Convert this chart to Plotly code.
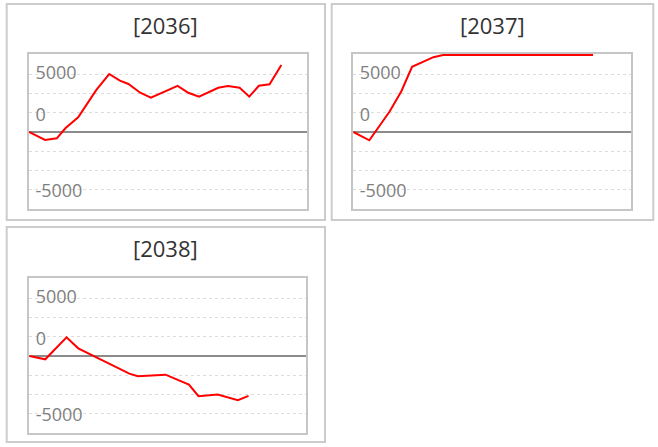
import plotly.graph_objects as go

W, H = 658, 447

titles = ["[2036]", "[2037]", "[2038]"]

x_2036 = [0, 1.5, 2.6, 3.4, 4.6, 5.4, 6.3, 7.5, 8.5, 9.3, 10.4, 11.4, 13.9, 14.9, 15.9, 17.7, 18.6, 19.7, 20.6, 21.5, 22.5, 23.6]
y_2036 = [0, -1040, -820, 480, 1910, 3510, 5460, 7530, 6660, 6240, 5100, 4460, 5980, 5100, 4590, 5750, 5980, 5750, 4590, 6010, 6200, 8700]

x_2037 = [0, 1.5, 3.4, 4.5, 5.5, 7.5, 8.4, 9.3, 10.4, 11.4, 13.9, 14.9, 15.9, 17.7, 18.6, 19.7, 20.6, 21.5, 22.45]
y_2037 = [0, -1080, 2660, 5300, 8470, 9720, 10000, 10000, 10000, 10000, 10000, 10000, 10000, 10000, 10000, 10000, 10000, 10000, 10000]

x_2038 = [0, 1.5, 3.5, 4.6, 9.4, 10.2, 12.8, 15.0, 15.9, 17.7, 19.6, 20.6]
y_2038 = [0, -430, 2430, 1000, -2300, -2640, -2430, -3730, -5240, -5030, -5750, -5200]

# label positions and texts (as placed in the original) and gridline positions
label_vals = [7550, 2100, -7800]
label_text = ["5000", "0", "-5000"]
grid_vals = [-7500, -5000, -2500, 2500, 5000, 7500]

y_range = [-10000, 10130]
x_range = [0, 26]

# pixel boxes of plot areas (left, right, top, bottom)
plot_boxes = [(29, 307, 55, 209), (353.3, 631, 55, 209), (29.3, 306, 279.3, 432.7)]
panel_boxes = [(6.7, 325, 4, 220), (331.7, 653.3, 4, 220), (6.7, 325, 227, 442)]

series = [(x_2036, y_2036), (x_2037, y_2037), (x_2038, y_2038)]

fig = go.Figure()
layout = dict(
    width=W, height=H, margin=dict(l=0, r=0, t=0, b=0),
    paper_bgcolor="white", plot_bgcolor="white", showlegend=False,
    font=dict(family="Open Sans, Noto Sans, sans-serif"),
)
annotations = []
shapes = []
for i, ((xs, ys), (l, r, t, b), (pl, pr, pt, pb), title) in enumerate(zip(series, plot_boxes, panel_boxes, titles)):
    n = "" if i == 0 else str(i + 1)
    fig.add_trace(go.Scatter(x=xs, y=ys, mode="lines", line=dict(color="#ff0000", width=2),
                             xaxis="x" + n, yaxis="y" + n, hoverinfo="skip"))
    layout["xaxis" + n] = dict(
        domain=[l / W, r / W], range=x_range, anchor="y" + n,
        showgrid=False, zeroline=False, showticklabels=False, ticks="",
        showline=True, mirror=True, linecolor="#c6c6c6", linewidth=2,
        layer="below traces",
    )
    layout["yaxis" + n] = dict(
        domain=[1 - b / H, 1 - (t - 1) / H], range=y_range, anchor="x" + n,
        tickmode="array", tickvals=label_vals, ticktext=label_text,
        ticklabelposition="inside", ticklabelstandoff=7, ticklabelshift=-1,
        tickfont=dict(size=18, color="#7f7f7f", family="Open Sans, sans-serif"),
        ticks="", showgrid=False,
        minor=dict(tickmode="array", tickvals=grid_vals, showgrid=True, ticks="",
                   gridcolor="#dcdcdc", griddash="dot", gridwidth=1),
        zeroline=True, zerolinecolor="#8c8c8c", zerolinewidth=2,
        showline=True, mirror=True, linecolor="#c6c6c6", linewidth=2,
        layer="below traces",
    )
    shapes.append(dict(type="rect", xref="paper", yref="paper",
                       x0=pl / W, x1=pr / W, y0=1 - pb / H, y1=1 - pt / H,
                       line=dict(color="#cccccc", width=2), fillcolor="rgba(0,0,0,0)", layer="below"))
    annotations.append(dict(text=title, xref="paper", yref="paper",
                            x=(pl + pr) / 2 / W, y=1 - (pt + 20.5) / H,
                            xanchor="center", yanchor="middle", showarrow=False,
                            font=dict(size=22, color="#333333", family="Open Sans, sans-serif")))

layout["shapes"] = shapes
layout["annotations"] = annotations
fig.update_layout(**layout)
fig.write_html("out.html", config={"displayModeBar": False},
               post_script="document.body.style.margin='0';document.body.style.overflow='hidden';")
